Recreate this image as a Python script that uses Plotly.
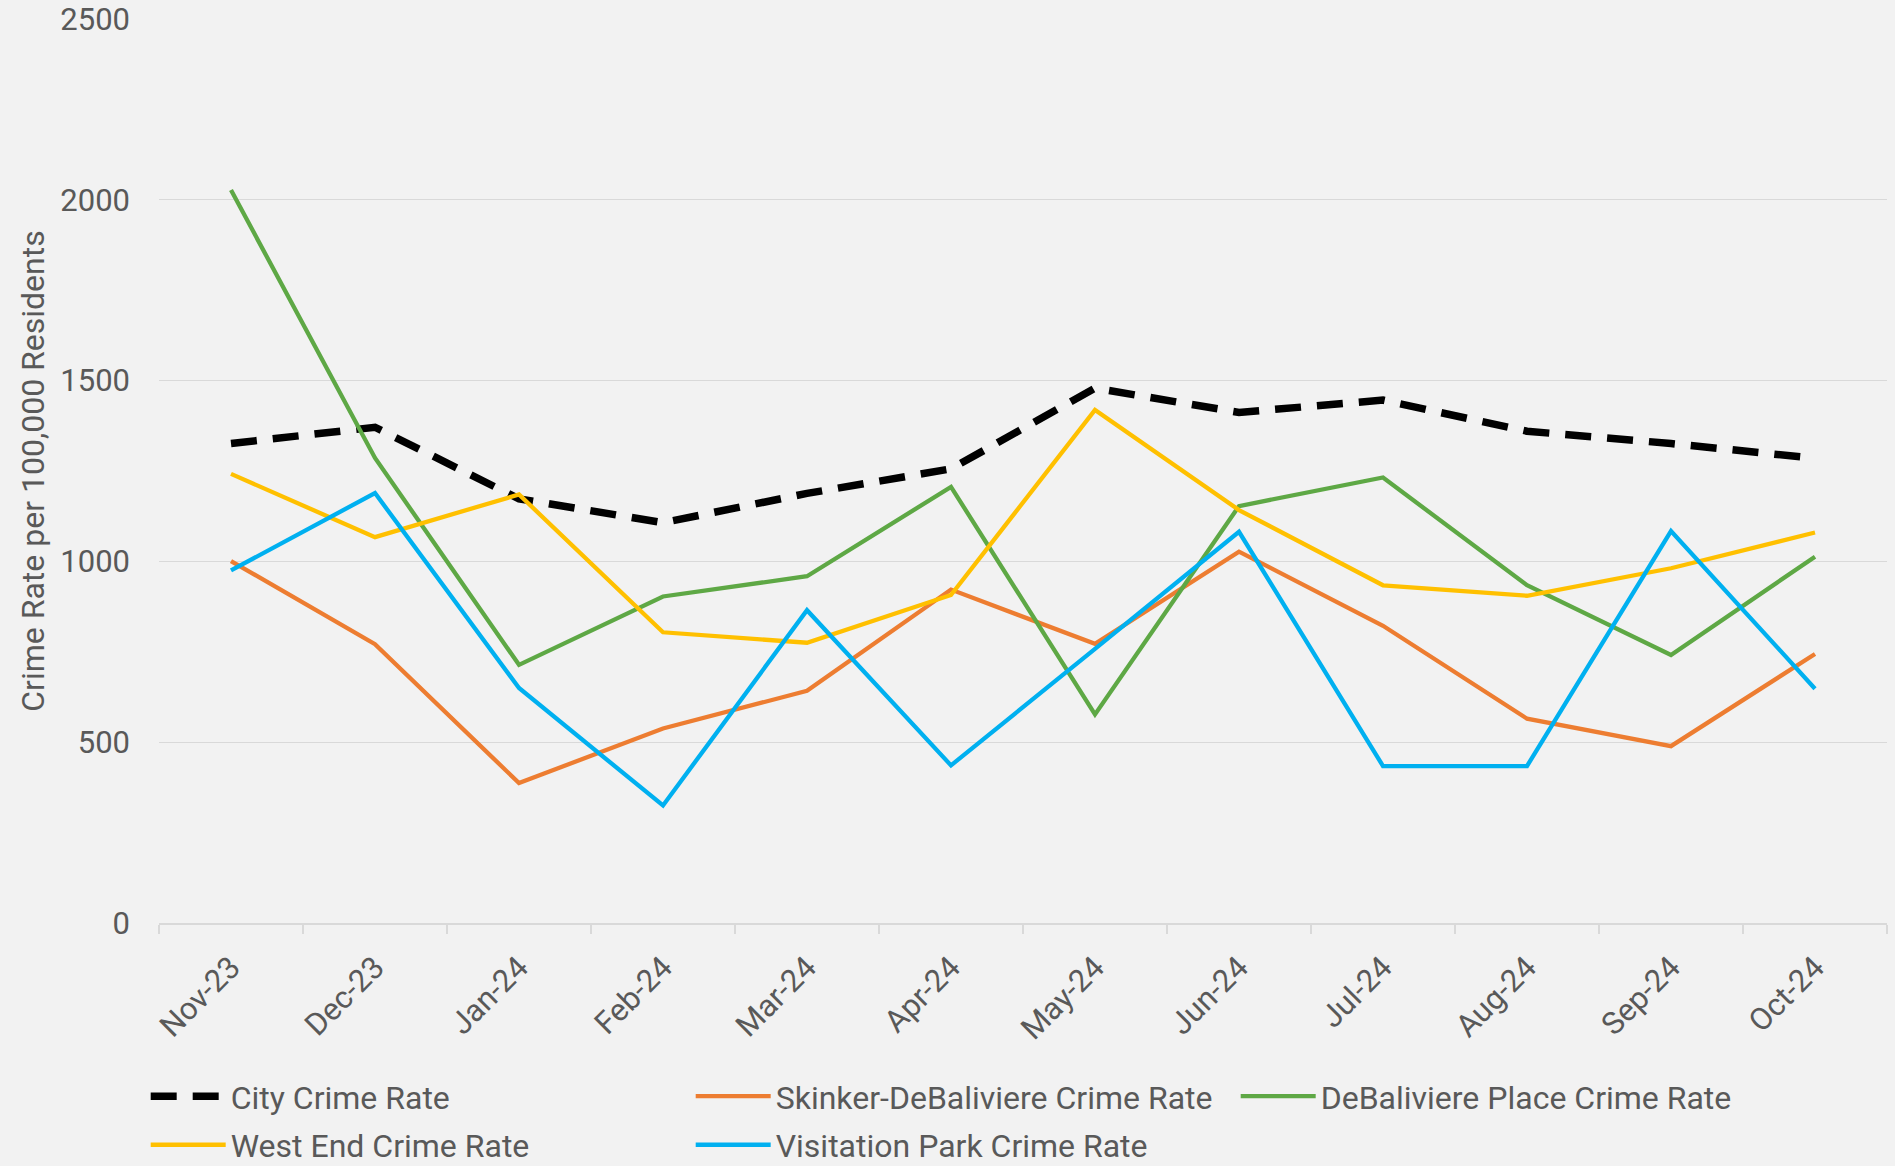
import plotly.graph_objects as go

months = ["Nov-23", "Dec-23", "Jan-24", "Feb-24", "Mar-24", "Apr-24",
          "May-24", "Jun-24", "Jul-24", "Aug-24", "Sep-24", "Oct-24"]
city_rate = [1326, 1371, 1173, 1107, 1188, 1256, 1479, 1412, 1446, 1360, 1326, 1285]
skinker_rate = [1001, 771, 387, 538, 642, 922, 772, 1027, 822, 565, 489, 744]
debaliviere_place_rate = [2027, 1286, 714, 903, 959, 1206, 577, 1153, 1232, 934, 741, 1013]
west_end_rate = [1242, 1067, 1185, 804, 775, 907, 1419, 1142, 934, 905, 981, 1080]
visitation_park_rate = [975, 1189, 650, 325, 865, 436, 758, 1082, 434, 434, 1084, 648]

names = ["City Crime Rate", "Skinker-DeBaliviere Crime Rate", "DeBaliviere Place Crime Rate",
         "West End Crime Rate", "Visitation Park Crime Rate"]
series = [city_rate, skinker_rate, debaliviere_place_rate, west_end_rate, visitation_park_rate]
colors = ["#000000", "#ED7D31", "#5EA845", "#FFC000", "#00B0F0"]
legends = ["legend", "legend", "legend", "legend2", "legend2"]

FONT = "Roboto"
TXT = "#595959"

fig = go.Figure()
for i, (nm, vals, col, lg) in enumerate(zip(names, series, colors, legends)):
    if i == 0:
        line = dict(color=col, width=7.5, dash="26px,16px")
    else:
        line = dict(color=col, width=4.3)
    fig.add_trace(go.Scatter(x=months, y=vals, name=nm, mode="lines", line=line, legend=lg))

leg_common = dict(orientation="h", xanchor="left", yanchor="middle",
                  entrywidth=455, entrywidthmode="pixels", itemwidth=75,
                  font=dict(family=FONT, size=32, color=TXT),
                  bgcolor="rgba(0,0,0,0)", borderwidth=0, tracegroupgap=0)

fig.update_layout(
    width=1895, height=1166,
    margin=dict(l=159, r=8, t=19, b=243, autoexpand=False),
    paper_bgcolor="#F2F2F2", plot_bgcolor="#F2F2F2",
    font=dict(family=FONT, color=TXT),
    showlegend=True,
    legend=dict(x=-0.0077, y=-0.1918, **leg_common),
    legend2=dict(x=-0.0077, y=-0.2455, **leg_common),
    xaxis=dict(type="category", range=[-0.5, 11.5], tickson="boundaries",
               ticks="outside", ticklen=9, tickcolor="#D9D9D9", tickwidth=1.5,
               showline=True, linecolor="#D9D9D9", linewidth=1.5, showgrid=False,
               tickangle=-45, ticklabelstandoff=12, automargin=False,
               tickfont=dict(family=FONT, size=31, color=TXT)),
    yaxis=dict(range=[0, 2500], dtick=500, tick0=0, showgrid=True,
               gridcolor="#D9D9D9", gridwidth=1.3, zeroline=False, showline=False,
               ticks="", ticklabelstandoff=28, automargin=False,
               tickfont=dict(family=FONT, size=31, color=TXT),
               title=dict(text="Crime Rate per 100,000 Residents", standoff=6,
                          font=dict(family=FONT, size=32, color=TXT))),
)

fig.write_html("out.html", config={"displayModeBar": False},
               post_script="document.body.style.margin='0';document.body.style.background='#F2F2F2';")
